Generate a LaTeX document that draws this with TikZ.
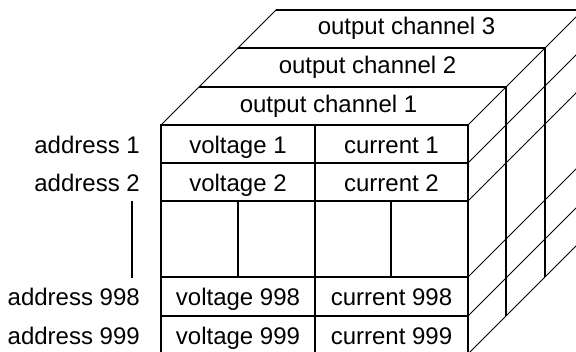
\documentclass[tikz,border=0pt]{standalone}
\usepackage{fontspec}
\setmainfont{Liberation Sans}

\begin{document}
\begin{tikzpicture}[x=1pt,y=-1pt,
  faceline/.style={line width=1.8pt},
  depthline/.style={line width=0.9pt},
  cell/.style={inner sep=0pt,anchor=base,font=\fontsize{24}{28}\selectfont},
  addr/.style={cell,anchor=base east}]
\clip (0,0) rectangle (576,352);
\fill[white] (0,0) rectangle (576,352);
% depth lines
\draw[depthline] (161,125) -- ++(115,-115);
\foreach \y in {125,163,201,277,316,354}
  \draw[depthline] (468,\y) -- ++(115,-115);
% channel layers behind the front face
\foreach \k in {1,2,3}
  \draw[faceline] (161+38.3*\k,125-38.3*\k) -- (468+38.3*\k,125-38.3*\k)
                  -- (468+38.3*\k,354-38.3*\k);
% front face
\draw[faceline] (161,125) rectangle (468,354);
\foreach \y in {163,201,277,316}
  \draw[faceline] (161,\y) -- (468,\y);
\draw[faceline] (315,125) -- (315,354);
\draw[faceline] (238,201) -- (238,277);
\draw[faceline] (391,201) -- (391,277);
% channel names
\node[cell] (ch1) at (328.5,112.3) {output channel 1};
\node[cell] (ch2) at (367.5,73.5) {output channel 2};
\node[cell] (ch3) at (406.5,35) {output channel 3};
% cells
\node[cell] (v1) at (238,153.3) {voltage 1};
\node[cell] (c1) at (391.5,153.3) {current 1};
\node[cell] (v2) at (238,191.5) {voltage 2};
\node[cell] (c2) at (391.5,191.5) {current 2};
\node[cell] (v998) at (238,306) {voltage 998};
\node[cell] (c998) at (391.5,306) {current 998};
\node[cell] (v999) at (238,344.3) {voltage 999};
\node[cell] (c999) at (391.5,344.3) {current 999};
% addresses
\node[addr] (a1) at (140,153.3) {address 1};
\node[addr] (a2) at (140,191.5) {address 2};
\node[addr] (a998) at (140,306) {address 998};
\node[addr] (a999) at (140,344.3) {address 999};
\draw[faceline] (132,201) -- (132,278);
\end{tikzpicture}
\end{document}
